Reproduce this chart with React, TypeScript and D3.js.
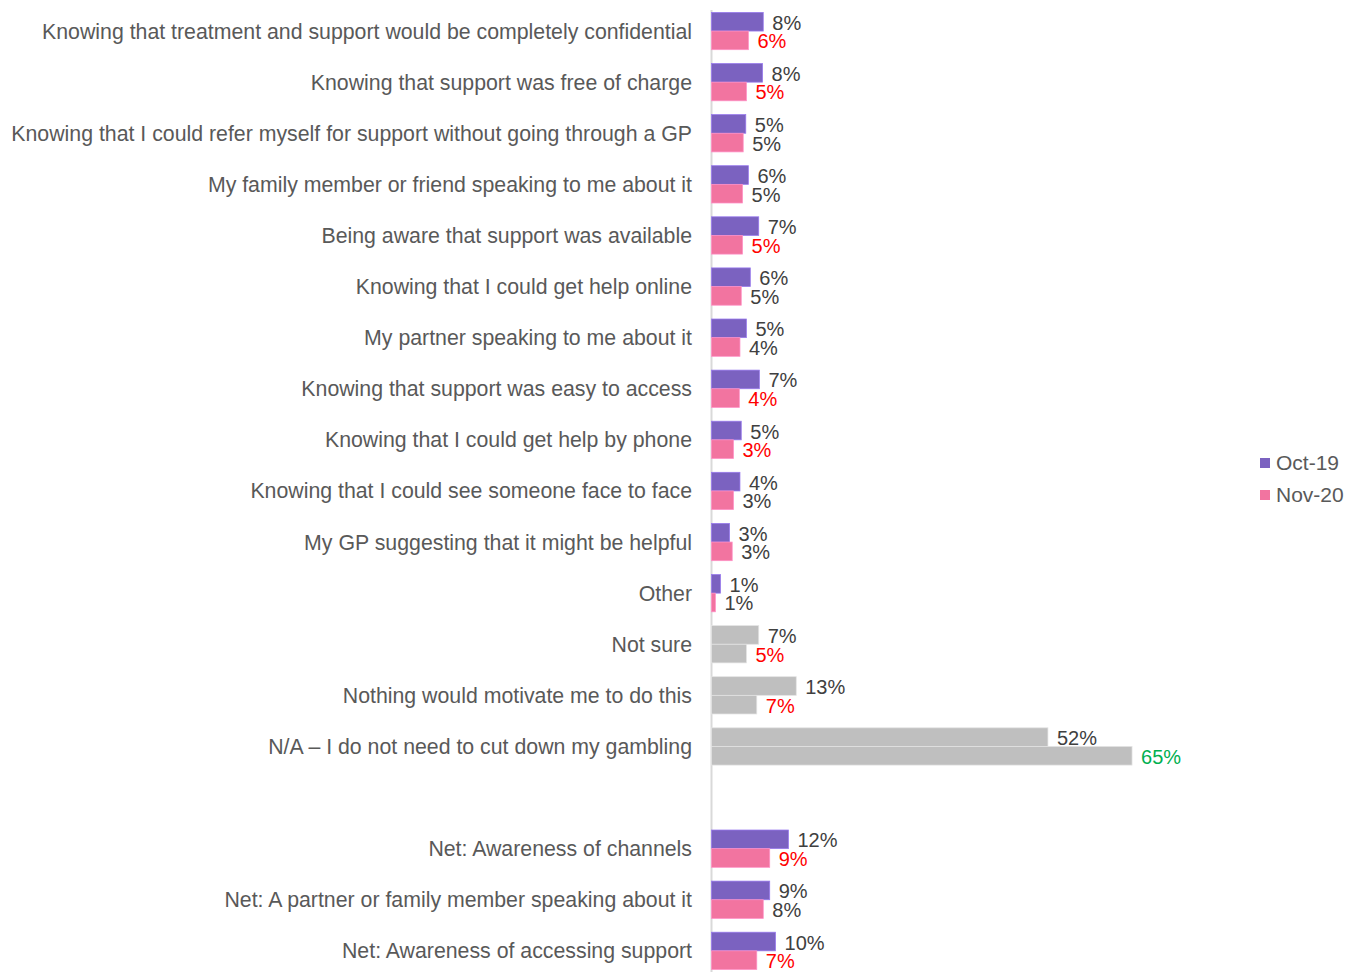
import React from 'react';
import * as d3 from 'd3';

const categories = [
  'Knowing that treatment and support would be completely confidential',
  'Knowing that support was free of charge',
  'Knowing that I could refer myself for support without going through a GP',
  'My family member or friend speaking to me about it',
  'Being aware that support was available',
  'Knowing that I could get help online',
  'My partner speaking to me about it',
  'Knowing that support was easy to access',
  'Knowing that I could get help by phone',
  'Knowing that I could see someone face to face',
  'My GP suggesting that it might be helpful',
  'Other',
  'Not sure',
  'Nothing would motivate me to do this',
  'N/A \u2013 I do not need to cut down my gambling',
  '',
  'Net: Awareness of channels',
  'Net: A partner or family member speaking about it',
  'Net: Awareness of accessing support',
];

// values in %
const oct19 = [8.0, 7.9, 5.3, 5.7, 7.3, 6.0, 5.4, 7.4, 4.6, 4.4, 2.8, 1.4, 7.3, 13.1, 52, null, 11.9, 9.0, 9.9];
const nov20 = [5.7, 5.4, 4.9, 4.8, 4.8, 4.6, 4.4, 4.3, 3.4, 3.4, 3.2, 0.6, 5.4, 7.0, 65, null, 9.0, 8.0, 7.0];

// significance flags for Nov-20 labels: -1 lower, 1 higher, 0 none
const nov20Sig = [-1, -1, 0, 0, -1, 0, 0, -1, -1, 0, 0, 0, -1, -1, 1, 0, -1, 0, -1];

const greyRows = ['Not sure', 'Nothing would motivate me to do this', 'N/A \u2013 I do not need to cut down my gambling'];

const series = ['Oct-19', 'Nov-20'];
const seriesColors = ['#7b62c0', '#f274a0'];

const W = 1359;
const H = 972;
const FONT = '"Liberation Sans", Arial, sans-serif';

export default function App() {
  const keys = categories.map((c, i) => c || `blank-${i}`);
  const y = d3.scaleBand<string>().domain(keys).range([5.5, 976.4]).paddingInner(0.27).paddingOuter(0.135);
  const x = d3.scaleLinear().domain([0, 100]).range([711.5, 711.5 + 647]);
  const sub = d3.scaleBand<string>().domain(series).range([0, y.bandwidth()]);

  const sigColor = (s: number) => (s < 0 ? '#ff0000' : s > 0 ? '#00b050' : '#404040');

  return (
    <svg width={W} height={H} style={{ position: 'absolute', left: 0, top: 0, background: '#fff' }}>
      <line x1={x(0)} x2={x(0)} y1={10} y2={H} stroke="#d9d9d9" strokeWidth={2} />
      {categories.map((cat, i) => {
        const key = keys[i];
        const y0 = y(key)!;
        const grey = greyRows.includes(cat);
        const vals = [oct19[i], nov20[i]];
        return (
          <g key={key}>
            {cat && (
              <text
                x={692}
                y={y0 + y.bandwidth() / 2}
                dy="0.35em"
                textAnchor="end"
                fontFamily={FONT}
                fontSize={21.3}
                fill="#595959"
              >
                {cat}
              </text>
            )}
            {vals.map((v, j) => {
              if (v == null) return null;
              const by = y0 + sub(series[j])!;
              const color = grey ? '#bfbfbf' : seriesColors[j];
              const labelColor = j === 1 ? sigColor(nov20Sig[i]) : '#404040';
              return (
                <g key={j}>
                  <rect
                    x={x(0)}
                    y={by}
                    width={x(v) - x(0)}
                    height={sub.bandwidth()}
                    fill={color}
                    stroke={grey ? '#e4e4e4' : d3.color(color)!.brighter(0.6).formatHex()}
                    strokeWidth={0.75}
                  />
                  <text
                    x={x(v) + 9}
                    y={by + sub.bandwidth() / 2 + 1}
                    dy="0.35em"
                    fontFamily={FONT}
                    fontSize={20}
                    fill={labelColor}
                  >
                    {Math.round(v)}%
                  </text>
                </g>
              );
            })}
          </g>
        );
      })}
      {series.map((s, j) => (
        <g key={s} transform={`translate(1260, ${463 + j * 32})`}>
          <rect x={0} y={-5} width={10} height={10} fill={seriesColors[j]} />
          <text x={16} y={0} dy="0.35em" fontFamily={FONT} fontSize={21} fill="#595959">
            {s}
          </text>
        </g>
      ))}
    </svg>
  );
}
